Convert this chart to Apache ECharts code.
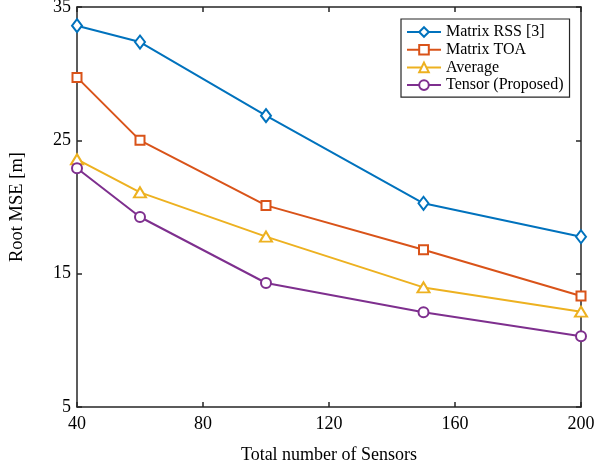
<!DOCTYPE html>
<html>
<head>
<meta charset="utf-8">
<script src="https://cdn.jsdelivr.net/npm/echarts@6/dist/echarts.min.js"></script>
<style>
html,body{margin:0;padding:0;background:#fff;}
#chart{width:603px;height:465px;}
</style>
</head>
<body>
<div id="chart"></div>
<script>
const sensors = [40, 60, 100, 150, 200];
const matrixRSS = [33.6, 32.37, 26.85, 20.28, 17.77];
const matrixTOA = [29.72, 25.0, 20.12, 16.8, 13.33];
const averageVals = [23.58, 21.1, 17.78, 13.97, 12.15];
const tensorVals = [22.9, 19.25, 14.3, 12.11, 10.3];
const xTicks = [40, 80, 120, 160, 200];
const yTicks = [5, 15, 25, 35];
const seriesNames = ['Matrix RSS [3]', 'Matrix TOA', 'Average', 'Tensor (Proposed)'];

const FONT = 'Liberation Serif';
const AXC = '#262626';
const colors = ['#0072BD', '#D95319', '#EDB120', '#7E2F8E'];
const symbols = ['emptyDiamond', 'emptyRect', 'emptyTriangle', 'emptyCircle'];
const sizes = [[10, 13], 9, [12, 10], 10];
const values = [matrixRSS, matrixTOA, averageVals, tensorVals];

function pairs(ys) { return sensors.map((x, i) => [x, ys[i]]); }

const chart = echarts.init(document.getElementById('chart'), null, {renderer: 'canvas'});
const axisCommon = {
  axisLine: {show: true, onZero: false, lineStyle: {color: AXC, width: 1.5}},
  axisTick: {show: true, inside: true, length: 5, lineStyle: {color: AXC, width: 1.5}},
  splitLine: {show: false}
};
chart.setOption({
  animation: false,
  backgroundColor: '#fff',
  grid: {left: 77, right: 22, top: 7, bottom: 58, containLabel: false, outerBoundsMode: 'none'},
  legend: {
    orient: 'vertical', left: 401, top: 19,
    padding: [5, 6, 4, 5], itemGap: 1.7,
    itemWidth: 34, itemHeight: 12,
    backgroundColor: '#fff', borderColor: AXC, borderWidth: 1.2,
    textStyle: {fontFamily: FONT, fontSize: 16, color: '#000', lineHeight: 16},
    data: seriesNames
  },
  xAxis: [
    Object.assign({}, axisCommon, {
      type: 'value', min: 40, max: 200, interval: 40, position: 'bottom',
      name: 'Total number of Sensors', nameLocation: 'middle', nameGap: 39,
      nameTextStyle: {fontFamily: FONT, fontSize: 18, color: '#000'},
      axisLabel: {fontFamily: FONT, fontSize: 18, color: '#000', margin: 8,
        customValues: xTicks},
      axisTick: Object.assign({}, axisCommon.axisTick, {customValues: xTicks})
    }),
    Object.assign({}, axisCommon, {
      type: 'value', min: 40, max: 200, interval: 40, position: 'top',
      axisLabel: {show: false},
      axisTick: Object.assign({}, axisCommon.axisTick, {customValues: xTicks})
    })
  ],
  yAxis: [
    Object.assign({}, axisCommon, {
      type: 'value', min: 5, max: 35, position: 'left',
      name: 'Root MSE [m]', nameLocation: 'middle', nameGap: 50,
      nameTextStyle: {fontFamily: FONT, fontSize: 18.5, color: '#000'},
      axisLabel: {fontFamily: FONT, fontSize: 18, color: '#000', margin: 6,
        customValues: yTicks},
      axisTick: Object.assign({}, axisCommon.axisTick, {customValues: yTicks})
    }),
    Object.assign({}, axisCommon, {
      type: 'value', min: 5, max: 35, position: 'right',
      axisLabel: {show: false},
      axisTick: Object.assign({}, axisCommon.axisTick, {customValues: yTicks})
    })
  ],
  series: seriesNames.map((n, i) => ({
    name: n, type: 'line', xAxisIndex: 0, yAxisIndex: 0,
    data: pairs(values[i]),
    symbol: symbols[i], symbolSize: sizes[i], showAllSymbol: true,
    lineStyle: {color: colors[i], width: 2},
    itemStyle: {color: colors[i], borderColor: colors[i], borderWidth: 1.8},
    emphasis: {disabled: true}
  }))
});
</script>
</body>
</html>
